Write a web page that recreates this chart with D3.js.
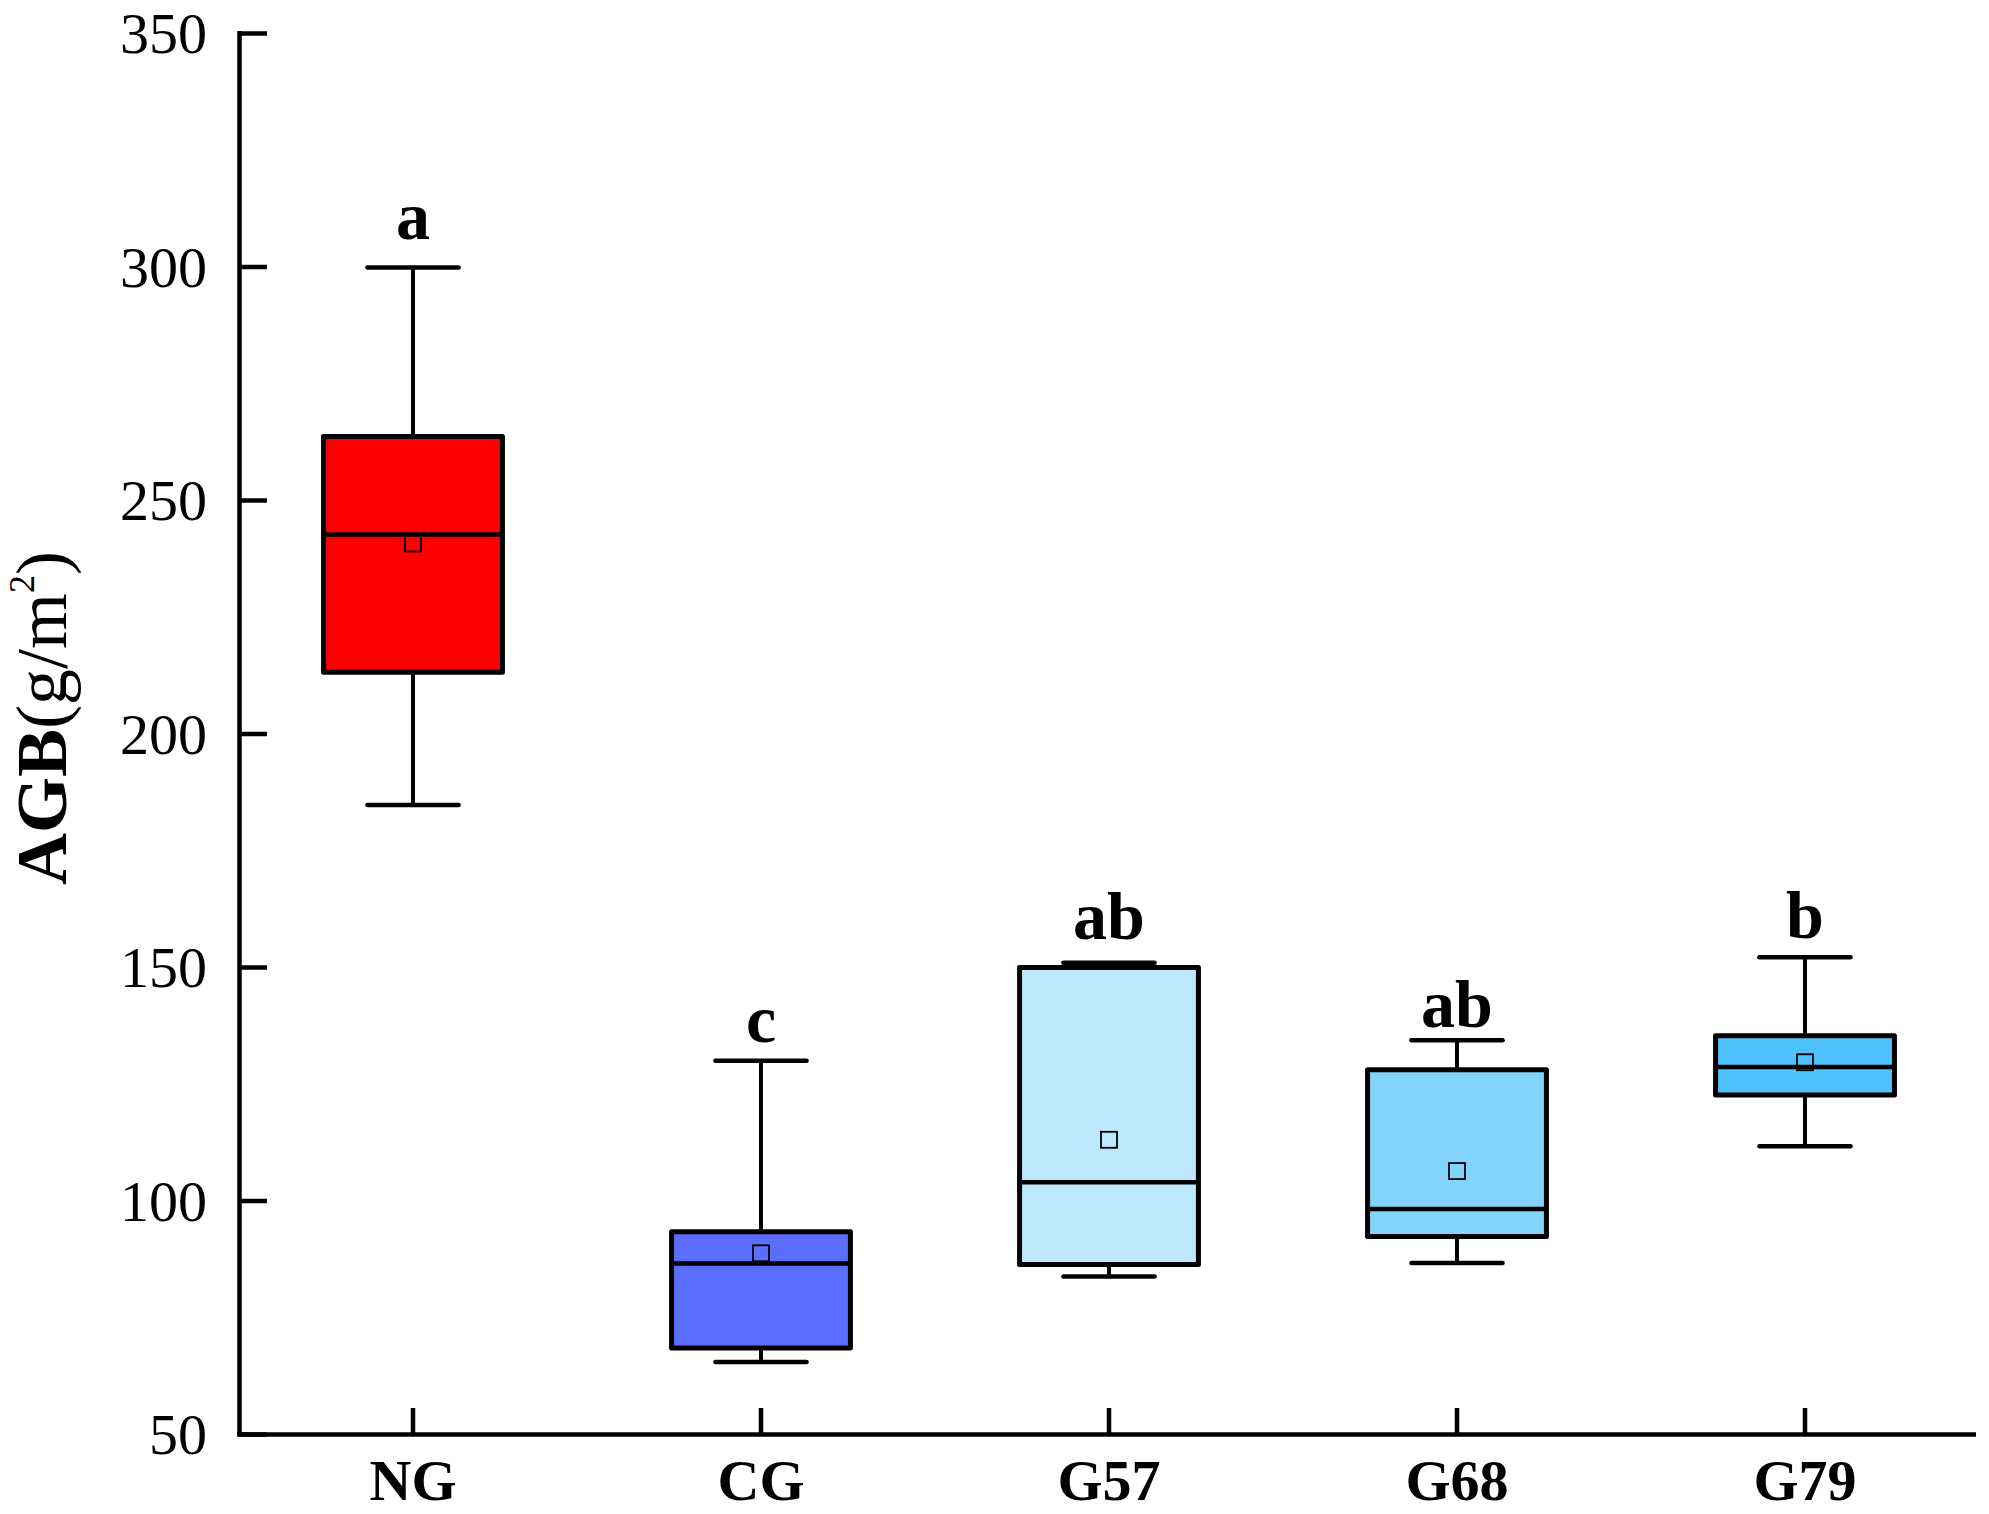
<!DOCTYPE html>
<html>
<head>
<meta charset="utf-8">
<script src="https://cdn.jsdelivr.net/npm/d3@7"></script>
<style>
  html, body { margin: 0; padding: 0; background: #fff; }
  svg { display: block; }
</style>
</head>
<body>
<svg id="chart" width="1989" height="1514"></svg>
<script>
// ---- data ----
const categories = ["NG", "CG", "G57", "G68", "G79"];
const whiskerLow  = [184.7, 65.4, 83.7, 86.6, 111.6];
const q1Values    = [213.1, 68.4, 86.3, 92.3, 122.6];
const medians     = [242.6, 86.5, 103.9, 98.2, 128.6];
const q3Values    = [263.6, 93.3, 149.9, 128.0, 135.3];
const whiskerHigh = [299.8, 129.9, 150.9, 134.3, 152.1];
const means       = [240.7, 88.7, 113.0, 106.3, 129.6];
const letters     = ["a", "c", "ab", "ab", "b"];
const letterAt    = [305.8, 134.0, 155.9, 137.2, 156.3];
const fills       = ["#ff0000", "#5b6eff", "#bce7fc", "#83d4fc", "#4dc2fc"];
const yTicks      = [50, 100, 150, 200, 250, 300, 350];

// ---- layout ----
const svg = d3.select("#chart");
const mLeft = 239, mRight = 1979, mTop = 33, mBottom = 1434;
const font = "'Liberation Serif', 'Times New Roman', serif";

const x = d3.scaleBand().domain(categories).range([mLeft, mRight]).paddingInner(0).paddingOuter(0);
const y = d3.scaleLinear().domain([50, 350]).range([mBottom, mTop]);

const boxW = x.bandwidth() * 0.514;
const capW = x.bandwidth() * 0.262;

const data = categories.map((c, i) => ({
  c, lo: whiskerLow[i], q1: q1Values[i], med: medians[i], q3: q3Values[i],
  hi: whiskerHigh[i], mean: means[i], letter: letters[i], letterY: letterAt[i], fill: fills[i]
}));

svg.append("rect").attr("width", 1989).attr("height", 1514).attr("fill", "#fff");

// ---- boxes ----
const g = svg.append("g");
const box = g.selectAll("g.box").data(data).join("g").attr("class", "box");
const cx = d => x(d.c) + x.bandwidth() / 2;

// whiskers
box.append("line")
  .attr("x1", cx).attr("x2", cx)
  .attr("y1", d => y(d.q3)).attr("y2", d => y(d.hi))
  .attr("stroke", "#000").attr("stroke-width", 4);
box.append("line")
  .attr("x1", cx).attr("x2", cx)
  .attr("y1", d => y(d.q1)).attr("y2", d => y(d.lo))
  .attr("stroke", "#000").attr("stroke-width", 4);
// caps
box.append("line")
  .attr("x1", d => cx(d) - capW / 2).attr("x2", d => cx(d) + capW / 2)
  .attr("y1", d => y(d.hi)).attr("y2", d => y(d.hi))
  .attr("stroke", "#000").attr("stroke-width", 4.5).attr("stroke-linecap", "round");
box.append("line")
  .attr("x1", d => cx(d) - capW / 2).attr("x2", d => cx(d) + capW / 2)
  .attr("y1", d => y(d.lo)).attr("y2", d => y(d.lo))
  .attr("stroke", "#000").attr("stroke-width", 4.5).attr("stroke-linecap", "round");
// box
box.append("rect")
  .attr("x", d => cx(d) - boxW / 2).attr("width", boxW)
  .attr("y", d => y(d.q3)).attr("height", d => y(d.q1) - y(d.q3))
  .attr("fill", d => d.fill).attr("stroke", "#000").attr("stroke-width", 5)
  .attr("stroke-linejoin", "round");
// median
box.append("line")
  .attr("x1", d => cx(d) - boxW / 2).attr("x2", d => cx(d) + boxW / 2)
  .attr("y1", d => y(d.med)).attr("y2", d => y(d.med))
  .attr("stroke", "#000").attr("stroke-width", 4.5);
// mean marker
const ms = 16;
box.append("rect")
  .attr("x", d => cx(d) - ms / 2).attr("y", d => y(d.mean) - ms / 2)
  .attr("width", ms).attr("height", ms)
  .attr("fill", "none").attr("stroke", "#000").attr("stroke-width", 1.8);
// significance letters
box.append("text")
  .attr("x", cx).attr("y", d => y(d.letterY))
  .attr("text-anchor", "middle")
  .attr("font-family", font).attr("font-weight", "bold").attr("font-size", 68)
  .text(d => d.letter);

// ---- axes ----
const yAxis = d3.axisLeft(y).tickValues(yTicks).tickSizeInner(-28).tickSizeOuter(0).tickPadding(32);
const yg = svg.append("g").attr("transform", `translate(${mLeft},0)`).call(yAxis);
yg.select(".domain").attr("stroke", "#000").attr("stroke-width", 4.5)
  .attr("d", `M0.5,${mBottom + 2}V${mTop - 2}`);
yg.selectAll(".tick line").attr("stroke", "#000").attr("stroke-width", 4.5);
yg.selectAll(".tick text").attr("font-family", font).attr("font-size", 58).attr("fill", "#000")
  .attr("dy", "0.34em");

const xAxis = d3.axisBottom(x).tickSizeInner(-26).tickSizeOuter(0).tickPadding(25);
const xg = svg.append("g").attr("transform", `translate(0,${mBottom})`).call(xAxis);
xg.select(".domain").attr("stroke", "#000").attr("stroke-width", 4.5)
  .attr("d", `M${mLeft - 2},0.5H${mRight - 3}`);
xg.selectAll(".tick line").attr("stroke", "#000").attr("stroke-width", 4.5);
xg.selectAll(".tick text").attr("font-family", font).attr("font-size", 58)
  .attr("font-weight", "bold").attr("fill", "#000").attr("dy", "0.71em");

// ---- y label ----
const yl = svg.append("text")
  .attr("transform", "translate(66,718) rotate(-90)")
  .attr("text-anchor", "middle")
  .attr("font-family", font).attr("font-size", 72).attr("fill", "#000");
yl.append("tspan").attr("font-weight", "bold").text("AGB");
yl.append("tspan").text("(g/m");
yl.append("tspan").attr("font-size", 36).attr("dy", -32).text("2");
yl.append("tspan").attr("dy", 32).text(")");
</script>
</body>
</html>
